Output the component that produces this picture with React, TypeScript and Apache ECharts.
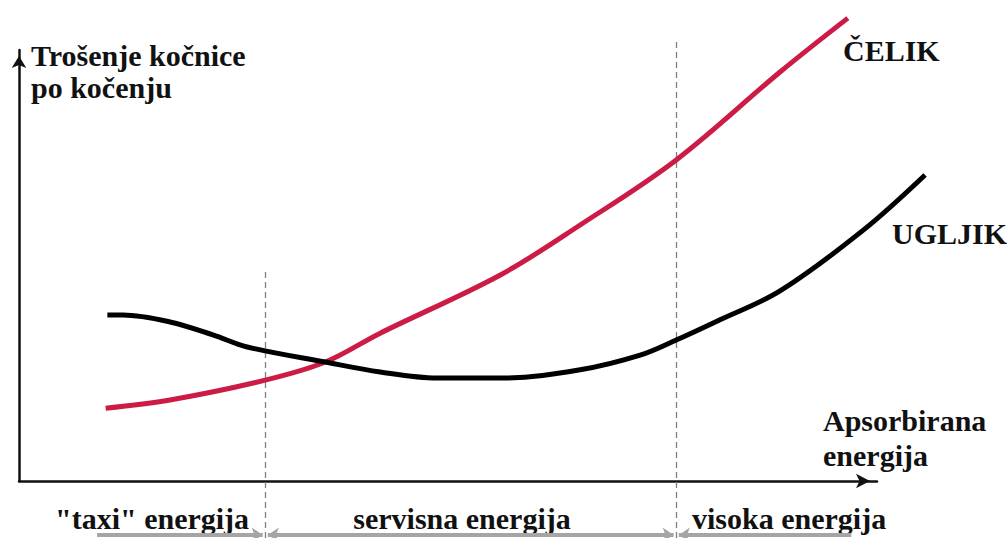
import React, { useEffect, useRef } from "react";
import * as echarts from "echarts";

// Conceptual chart: x = absorbed energy (0..100), y = brake wear per braking (0..100)
const celikX = [10.1, 17.6, 28.7, 35.7, 42.1, 56.1, 65.4, 76.6, 88.7, 96.6];
const celikY = [16.9, 18.8, 23.4, 27.6, 34.3, 47.8, 59.4, 74.5, 94.9, 107.4];

const ugljikX = [10.3, 12.1, 17.6, 22.6, 26.6, 35.7, 42.1, 48.7, 56.6, 65.4, 72.4, 76.6, 81.7, 88.7, 98.4, 105.6];
const ugljikY = [38.5, 38.5, 36.9, 33.9, 31.1, 27.6, 25.3, 23.9, 23.9, 25.8, 29.2, 32.7, 37.4, 44.1, 58.2, 71.0];

// region boundaries (dashed verticals) and their vertical extents
const boundaryX = [28.7, 76.6];
const boundaryTop = [49.4, 101.9];
const boundaryBottom = -13.2;

// bottom region arrows
const regionNames = ['"taxi" energija', "servisna energija", "visoka energija"];
const regionFrom = [9.1, 29.0, 76.9];
const regionTo = [28.4, 76.3, 97.0];
const regionArrowY = -12.5;

const seriesNames = ["ČELIK", "UGLJIK"];
const yAxisName = ["Trošenje kočnice", "po kočenju"];
const xAxisName = ["Apsorbirana", "energija"];

const FONT = "'Liberation Serif', 'Times New Roman', serif";
const FS = 30;

// pixel layout of the visible axes
const AX_LEFT = 19;
const AX_RIGHT = 877;
const AX_TOP = 50;
const AX_BOTTOM = 481;
const W = 1007;
const H = 538;
const X_MAX = 100;
const Y_MAX = 100;
const EXT = 110; // extended hidden axes for the curves

export default function App() {
  const ref = useRef<HTMLDivElement>(null);
  useEffect(() => {
    if (!ref.current) return;
    const chart = echarts.init(ref.current, undefined, { renderer: "svg" });
    const txt = (text: string, x: number, y: number, align: string = "left") => ({
      type: "text",
      x,
      y,
      silent: true,
      style: {
        text,
        fill: "#111",
        fontFamily: FONT,
        fontWeight: "bold",
        fontSize: FS,
        align,
        verticalAlign: "middle",
      },
    });
    const zip = (a: number[], b: number[]) => a.map((v, i) => [v, b[i]]);
    const pxX = (AX_RIGHT - AX_LEFT) / X_MAX;
    const pxY = (AX_BOTTOM - AX_TOP) / Y_MAX;
    const extRight = AX_LEFT + pxX * EXT;
    const extTop = AX_BOTTOM - pxY * EXT;
    const hiddenAxis = {
      type: "value",
      min: 0,
      max: EXT,
      show: false,
      splitLine: { show: false },
    };
    chart.setOption({
      animation: false,
      backgroundColor: "#fff",
      grid: [
        { left: AX_LEFT, top: AX_TOP, right: W - AX_RIGHT, bottom: H - AX_BOTTOM },
        { left: AX_LEFT, top: extTop, right: W - extRight, bottom: H - AX_BOTTOM },
      ],
      xAxis: [
        {
          type: "value",
          gridIndex: 0,
          min: 0,
          max: X_MAX,
          splitLine: { show: false },
          axisTick: { show: false },
          axisLabel: { show: false },
          axisLine: {
            show: true,
            onZero: false,
            symbol: ["none", "arrow"],
            symbolSize: [11, 14],
            symbolOffset: [0, -7],
            lineStyle: { color: "#111", width: 2.5 },
          },
        },
        { ...hiddenAxis, gridIndex: 1 },
      ],
      yAxis: [
        {
          type: "value",
          gridIndex: 0,
          min: 0,
          max: Y_MAX,
          splitLine: { show: false },
          axisTick: { show: false },
          axisLabel: { show: false },
          axisLine: {
            show: true,
            onZero: false,
            symbol: ["none", "arrow"],
            symbolSize: [11, 12],
            symbolOffset: [0, -6],
            lineStyle: { color: "#111", width: 2.5 },
          },
        },
        { ...hiddenAxis, gridIndex: 1 },
      ],
      series: [
        {
          name: seriesNames[0],
          type: "line",
          xAxisIndex: 1,
          yAxisIndex: 1,
          data: zip(celikX, celikY),
          smooth: 0.35,
          showSymbol: false,
          clip: false,
          lineStyle: { color: "#cc1b45", width: 5 },
          z: 3,
        },
        {
          name: seriesNames[1],
          type: "line",
          xAxisIndex: 1,
          yAxisIndex: 1,
          data: zip(ugljikX, ugljikY),
          smooth: 0.35,
          showSymbol: false,
          clip: false,
          lineStyle: { color: "#000", width: 5 },
          z: 4,
        },
        {
          type: "lines",
          coordinateSystem: "cartesian2d",
          xAxisIndex: 1,
          yAxisIndex: 1,
          clip: false,
          silent: true,
          lineStyle: { color: "#808080", width: 1.3, type: [6, 4], opacity: 1 },
          data: boundaryX.map((x, i) => ({ coords: [[x, boundaryBottom], [x, boundaryTop[i]]] })),
          z: 1,
        },
        {
          type: "lines",
          coordinateSystem: "cartesian2d",
          xAxisIndex: 1,
          yAxisIndex: 1,
          clip: false,
          silent: true,
          symbolSize: 11,
          lineStyle: { color: "#a5a5a5", width: 4, opacity: 1 },
          data: regionFrom.map((f, i) => ({
            coords: [[f, regionArrowY], [regionTo[i], regionArrowY]],
            symbol: [i === 0 ? "none" : "arrow", i === 2 ? "none" : "arrow"],
          })),
          z: 1,
        },
      ],
      graphic: [
        txt(yAxisName[0], 31, 55),
        txt(yAxisName[1], 31, 87),
        txt(seriesNames[0], 843, 50),
        txt(seriesNames[1], 892, 233),
        txt(xAxisName[0], 823, 420),
        txt(xAxisName[1], 823, 455),
        txt(regionNames[0], 55, 518),
        txt(regionNames[1], 462, 518, "center"),
        txt(regionNames[2], 692, 518),
      ],
    });
    return () => chart.dispose();
  }, []);
  return (
    <div
      ref={ref}
      style={{ position: "absolute", left: 0, top: 0, width: W, height: H, background: "#fff" }}
    />
  );
}
